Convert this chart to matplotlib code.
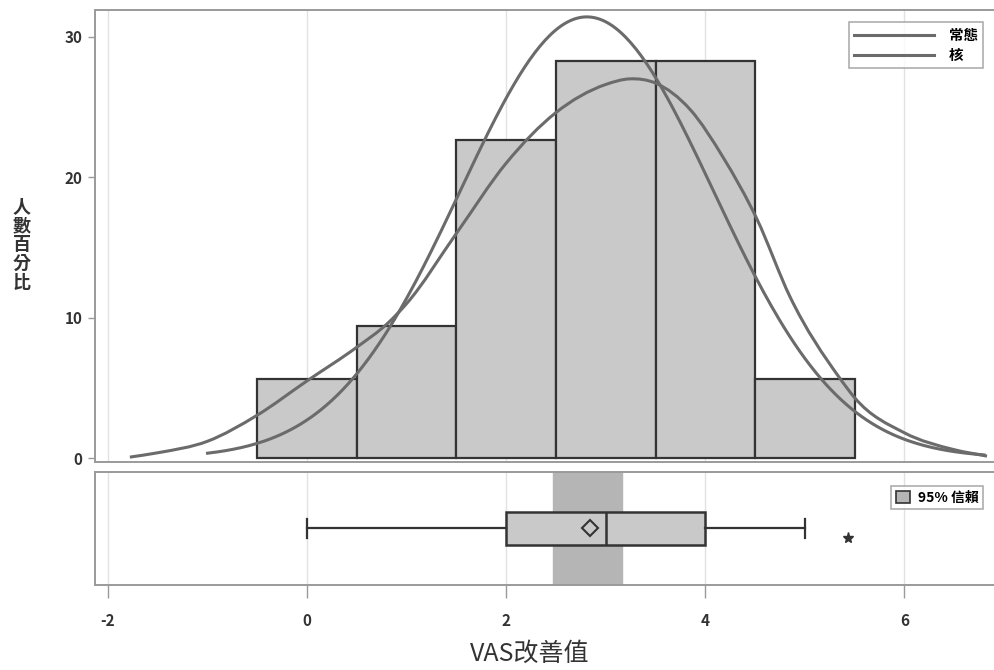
import numpy as np
import matplotlib
matplotlib.use("Agg")
import matplotlib.pyplot as plt
from matplotlib.lines import Line2D
from matplotlib.patches import Patch, PathPatch
from matplotlib.path import Path

plt.rcParams['font.family'] = ['Noto Sans CJK TC', 'DejaVu Sans']

# ----- datos -----
bin_centers = [0, 1, 2, 3, 4, 5]
pct = [5.66, 9.43, 22.64, 28.30, 28.30, 5.66]

norm_mean = 2.81
norm_sd = 1.27
norm_range = (-1.0, 6.8)

kern_x = [-1.78, -1.5, -1.0, -0.5, 0.0, 0.5, 0.81, 1.0, 1.5, 2.0, 2.5, 3.0, 3.24,
          3.5, 3.85, 4.18, 4.52, 4.85, 5.35, 5.5, 6.0, 6.5, 6.83]
kern_y = [0.07, 0.38, 1.2, 3.06, 5.5, 7.9, 9.6, 11.0, 16.0, 21.0, 24.6, 26.6, 27.0,
          26.7, 24.8, 21.4, 17.0, 11.5, 5.7, 4.3, 1.8, 0.6, 0.14]

box_stats = dict(whislo=0.0, q1=2.0, med=3.0, q3=4.0, whishi=5.0, mean=2.84, fliers=[])
outliers = [5.43]
ci_low, ci_high = 2.47, 3.16

x_ticks = [-2, 0, 2, 4, 6]
y_ticks = [0, 10, 20, 30]

# ----- estilo -----
bar_fill = '#c9c9c9'
edge = '#333333'
curve_col = '#6b6b6b'
frame_col = '#9a9a9a'
grid_col = '#e2e2e2'
xlim = (-2.13, 6.9)


def smooth_path(xp, yp):
    # tramos Hermite (pendiente por diferencias) dibujados como Bezier cubicos
    x = np.asarray(xp, float)
    y = np.asarray(yp, float)
    h = np.diff(x)
    d = np.diff(y) / h
    m = np.empty_like(y)
    m[0], m[-1] = d[0], d[-1]
    m[1:-1] = (d[:-1] * h[1:] + d[1:] * h[:-1]) / (h[:-1] + h[1:])
    verts = [(x[0], y[0])]
    codes = [Path.MOVETO]
    for i in range(len(x) - 1):
        verts += [(x[i] + h[i] / 3, y[i] + m[i] * h[i] / 3),
                  (x[i + 1] - h[i] / 3, y[i + 1] - m[i + 1] * h[i] / 3),
                  (x[i + 1], y[i + 1])]
        codes += [Path.CURVE4] * 3
    return Path(verts, codes)


fig = plt.figure(figsize=(9.94, 6.70), dpi=100)
ax = fig.add_axes([0.0956, 0.3104, 0.9044, 0.6746])
axb = fig.add_axes([0.0956, 0.1269, 0.9044, 0.1686])

# ----- histograma + curvas -----
for xv in x_ticks:
    ax.axvline(xv, color=grid_col, lw=1, zorder=0)
ax.bar(bin_centers, pct, width=1.0, color=bar_fill, edgecolor=edge, linewidth=1.6, zorder=2)

xs = np.linspace(norm_range[0], norm_range[1], 300)
norm_y = 100 * np.exp(-0.5 * ((xs - norm_mean) / norm_sd) ** 2) / (norm_sd * np.sqrt(2 * np.pi))
ax.plot(xs, norm_y, color=curve_col, lw=2.2, zorder=3)
ax.add_patch(PathPatch(smooth_path(kern_x, kern_y), facecolor='none', edgecolor=curve_col,
                       lw=2.2, zorder=3))

ax.set_xlim(*xlim)
ax.set_ylim(-0.28, 31.9)
ax.set_xticks([])
ax.set_yticks(y_ticks)
ax.tick_params(axis='y', length=5, width=1, color=frame_col, labelsize=11, pad=4)
for lab in ax.get_yticklabels():
    lab.set_fontweight('bold')
    lab.set_color('#333333')
for side in ['left', 'top', 'bottom']:
    ax.spines[side].set_color(frame_col)
    ax.spines[side].set_linewidth(1.4)
ax.spines['right'].set_visible(False)

handles = [Line2D([0], [0], color=curve_col, lw=2.2), Line2D([0], [0], color=curve_col, lw=2.2)]
leg = ax.legend(handles, ['常態', '核'], loc='upper right', bbox_to_anchor=(0.996, 0.99),
                frameon=True, fancybox=False, handlelength=5.5, fontsize=10.5,
                borderpad=0.35, labelspacing=0.3, handletextpad=1.0)
leg.get_frame().set_edgecolor(frame_col)
leg.get_frame().set_linewidth(1.2)
for t in leg.get_texts():
    t.set_fontweight('bold')

fig.text(0.022, 0.635, '\n'.join('人數百分比'), ha='center', va='center',
         fontsize=13, fontweight='bold', color='#333333', linespacing=1.0)

# ----- diagrama de caja -----
for xv in x_ticks:
    axb.axvline(xv, color=grid_col, lw=1, zorder=0)
axb.axvspan(ci_low, ci_high, color='#b5b5b5', zorder=1)
axb.bxp([box_stats], positions=[0.5], widths=0.29, vert=False, showmeans=True,
        patch_artist=True, showfliers=False,
        boxprops=dict(facecolor=bar_fill, edgecolor=edge, linewidth=1.8),
        medianprops=dict(color=edge, linewidth=1.8),
        whiskerprops=dict(color=edge, linewidth=1.6),
        capprops=dict(color=edge, linewidth=1.6),
        meanprops=dict(marker='D', markerfacecolor='none', markeredgecolor=edge,
                       markersize=8, markeredgewidth=1.5),
        capwidths=0.16, zorder=3)
axb.plot(outliers, [0.42] * len(outliers), linestyle='none', marker='*', color=edge,
         markersize=8, zorder=3)
axb.set_xlim(*xlim)
axb.set_ylim(0, 1)
axb.set_yticks([])
axb.set_xticks(x_ticks)
axb.set_xticklabels([str(v) for v in x_ticks])
axb.tick_params(axis='x', length=9, width=1, color=frame_col, labelsize=11, pad=11)
for lab in axb.get_xticklabels():
    lab.set_fontweight('bold')
    lab.set_color('#333333')
for side in ['left', 'top', 'bottom']:
    axb.spines[side].set_color(frame_col)
    axb.spines[side].set_linewidth(1.4)
axb.spines['right'].set_visible(False)

leg2 = axb.legend([Patch(facecolor='#b5b5b5', edgecolor=edge, linewidth=1.2)], ['95% 信賴'],
                  loc='upper right', bbox_to_anchor=(0.996, 0.94), frameon=True, fancybox=False,
                  fontsize=10, handlelength=1.0, handleheight=1.0, borderpad=0.35,
                  handletextpad=0.6)
leg2.get_frame().set_edgecolor(frame_col)
leg2.get_frame().set_linewidth(1.2)
for t in leg2.get_texts():
    t.set_fontweight('bold')

fig.text(0.533, 0.024, 'VAS改善值', ha='center', va='center', fontsize=18, color='#333333')

fig.savefig('out.png', dpi=100)
